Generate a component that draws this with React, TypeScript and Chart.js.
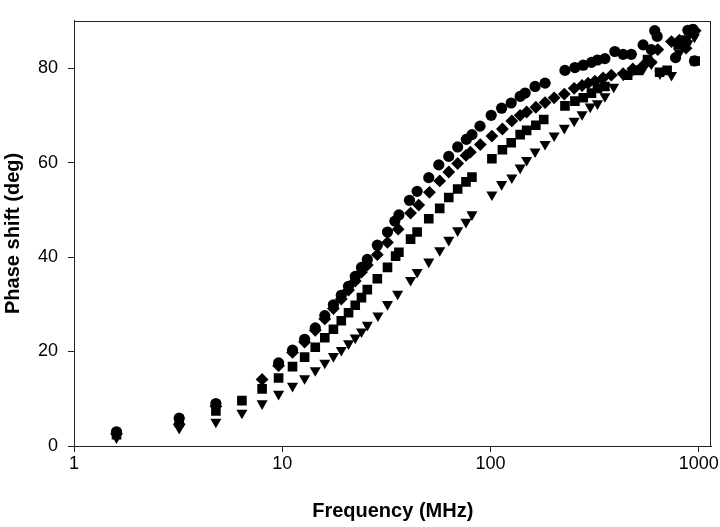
import React, { useEffect, useRef } from "react";
import { Chart, registerables } from "chart.js";

Chart.register(...registerables);

// ---- data ----
const circleFreq = [1.6, 3.2, 4.8, 9.6, 11.2, 12.8, 14.4, 16, 17.6, 19.2, 20.8, 22.4, 24, 25.6, 28.6, 32, 34.7, 36.3, 40.8, 44.4, 50.5, 56.4, 63, 69.5, 76.5, 81.4, 89, 100.7, 113, 125.6, 138.7, 146.6, 163.6, 182.7, 227.6, 254, 278.6, 305, 326, 354, 395, 433, 474, 540, 591, 614, 631, 773, 886, 936, 953];
const circlePhase = [3.0, 5.9, 9.0, 17.6, 20.3, 22.6, 25.0, 27.6, 29.9, 31.9, 33.8, 35.9, 37.8, 39.5, 42.5, 45.3, 47.6, 48.9, 52.0, 53.9, 56.8, 59.5, 61.3, 63.3, 64.9, 65.9, 67.7, 70.0, 71.5, 72.6, 74.0, 74.7, 76.1, 76.8, 79.5, 80.1, 80.6, 81.2, 81.7, 82.0, 83.5, 82.9, 82.9, 84.9, 83.9, 87.9, 86.7, 82.2, 88.0, 88.2, 81.5];

const diamondFreq = [1.6, 3.2, 4.8, 8.0, 9.6, 11.2, 12.8, 14.4, 16, 17.6, 19.2, 20.8, 22.4, 24, 25.6, 28.6, 32, 36, 41.3, 45.2, 50.9, 57, 63, 69.5, 76.2, 80, 89.3, 101.5, 114, 126.5, 138.7, 149, 165, 182.7, 202, 226, 252, 275, 294, 317, 347, 380, 433, 482, 540, 591, 635, 739, 806, 868, 920, 960];
const diamondPhase = [2.6, 4.6, 8.4, 14.1, 17.0, 19.8, 22.0, 24.5, 26.9, 29.1, 31.1, 33.0, 34.9, 36.8, 38.3, 40.5, 43.1, 45.9, 49.3, 51.0, 53.7, 56.1, 58.0, 59.8, 61.5, 62.2, 63.8, 65.6, 67.1, 68.8, 70.0, 70.7, 71.7, 72.7, 73.7, 74.5, 75.7, 76.3, 76.8, 77.2, 77.9, 78.5, 78.8, 79.8, 80.5, 81.2, 83.9, 85.6, 85.9, 84.2, 87.6, 87.9];

const squareFreq = [1.6, 3.2, 4.8, 6.4, 8.0, 9.6, 11.2, 12.8, 14.4, 16, 17.6, 19.2, 20.8, 22.4, 24, 25.6, 28.6, 32, 35, 36.3, 41.3, 44.4, 50.5, 57, 63, 69.5, 76.2, 81.4, 101.5, 114, 125.6, 138.7, 149, 165, 180, 227.6, 254, 278.6, 305, 326, 354, 455, 511, 567, 648, 704, 796, 868, 960];
const squarePhase = [2.4, 5.0, 7.4, 9.6, 12.1, 14.4, 16.8, 18.8, 20.9, 22.9, 24.7, 26.5, 28.2, 29.8, 31.4, 33.1, 35.4, 37.8, 40.2, 41.0, 43.8, 45.3, 48.1, 50.3, 52.6, 54.4, 55.9, 56.9, 60.8, 62.7, 64.2, 65.9, 66.8, 67.9, 69.1, 72.0, 73.0, 73.7, 74.7, 75.7, 76.1, 78.5, 79.5, 81.8, 79.1, 79.5, 84.9, 85.9, 81.5];

const triangleFreq = [1.6, 3.2, 4.8, 6.4, 8.0, 9.6, 11.2, 12.8, 14.4, 16, 17.6, 19.2, 20.8, 22.4, 24, 25.6, 28.8, 32, 35.8, 41.3, 44.4, 50.5, 57, 63, 69.5, 76.2, 81.4, 101.5, 113, 126.5, 138.7, 149, 163.6, 182.7, 202, 226, 252, 275, 301, 326, 354, 390, 433, 482, 540, 591, 650, 739, 806, 886, 953];
const trianglePhase = [1.8, 3.8, 5.1, 7.0, 9.0, 11.0, 12.7, 14.3, 16.0, 17.6, 19.0, 20.3, 21.7, 22.9, 24.2, 25.6, 27.6, 30.0, 32.2, 35.1, 36.8, 39.0, 41.4, 43.6, 45.6, 47.4, 49.0, 53.2, 55.4, 56.8, 58.9, 60.5, 62.3, 63.9, 65.7, 67.3, 68.8, 70.2, 71.8, 72.5, 74.0, 76.0, 78.5, 79.5, 79.8, 80.9, 78.8, 78.5, 83.2, 85.2, 86.6];

const xTicks = [1, 10, 100, 1000];
const yTicks = [0, 20, 40, 60, 80];
const xTitle = "Frequency (MHz)";
const yTitle = "Phase shift (deg)";

const toPts = (xs: number[], ys: number[]) => xs.map((x, i) => ({ x, y: ys[i] }));

const FONT = "'Liberation Sans', Arial, Helvetica, sans-serif";

const frame = {
  id: "frame",
  afterDraw(chart: any) {
    const { ctx, chartArea } = chart;
    ctx.save();
    ctx.strokeStyle = "#222";
    ctx.lineWidth = 1;
    ctx.strokeRect(
      Math.round(chartArea.left) + 0.5,
      Math.round(chartArea.top) + 0.5,
      Math.round(chartArea.right - chartArea.left) - 1,
      Math.round(chartArea.bottom - chartArea.top)
    );
    ctx.restore();
  },
};

export default function App() {
  const ref = useRef<HTMLCanvasElement>(null);
  useEffect(() => {
    if (!ref.current) return;
    const common = { showLine: false, backgroundColor: "#000", borderColor: "#000", borderWidth: 0 };
    const chart = new Chart(ref.current, {
      type: "scatter",
      data: {
        datasets: [
          { ...common, label: "c", data: toPts(circleFreq, circlePhase), pointStyle: "circle", pointRadius: 5.6 },
          { ...common, label: "d", data: toPts(diamondFreq, diamondPhase), pointStyle: "rectRot", pointRadius: 6.4 },
          { ...common, label: "s", data: toPts(squareFreq, squarePhase), pointStyle: "rect", pointRadius: 6.8 },
          { ...common, label: "t", data: toPts(triangleFreq, trianglePhase), pointStyle: "triangle", pointRotation: 180, pointRadius: 6.4 },
        ],
      },
      options: {
        responsive: false,
        animation: false,
        layout: { padding: { top: 2, right: 6, left: 0, bottom: 0 } },
        plugins: { legend: { display: false }, tooltip: { enabled: false } },
        scales: {
          x: {
            type: "logarithmic",
            min: 1,
            max: 1150,
            afterBuildTicks: (s: any) => {
              s.ticks = xTicks.map((v) => ({ value: v }));
            },
            afterFit: (s: any) => {
              s.height = 81;
            },
            ticks: {
              autoSkip: false,
              maxRotation: 0,
              padding: 1,
              color: "#000",
              font: { family: FONT, size: 18 },
              callback: (v: any) => String(v),
            },
            grid: { display: true, drawOnChartArea: false, drawTicks: true, tickLength: 6, color: "#222" },
            border: { display: true, color: "#222" },
            title: {
              display: true,
              text: xTitle,
              color: "#000",
              font: { family: FONT, size: 20, weight: "bold" },
              padding: { top: 0, bottom: 4 },
            },
          },
          y: {
            type: "linear",
            min: 0,
            max: 90,
            afterBuildTicks: (s: any) => {
              s.ticks = yTicks.map((v) => ({ value: v }));
            },
            afterFit: (s: any) => {
              s.width = 74;
            },
            ticks: {
              padding: 10,
              color: "#000",
              font: { family: FONT, size: 18 },
            },
            grid: { display: true, drawOnChartArea: false, drawTicks: true, tickLength: 6, color: "#222" },
            border: { display: true, color: "#222" },
            title: {
              display: true,
              text: yTitle,
              color: "#000",
              font: { family: FONT, size: 20, weight: "bold" },
              padding: { top: 1, bottom: 0 },
            },
          },
        },
      },
      plugins: [frame],
    });
    return () => chart.destroy();
  }, []);
  return (
    <div style={{ position: "absolute", left: 0, top: 0, width: 720, height: 527, background: "#fff" }}>
      <canvas ref={ref} width={720} height={527} style={{ width: 720, height: 527 }} />
    </div>
  );
}
